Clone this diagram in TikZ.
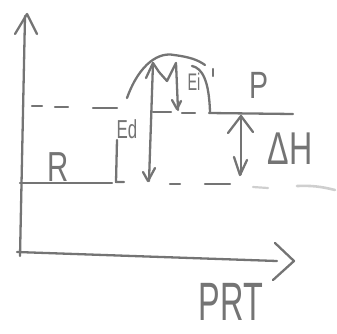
\documentclass[tikz,border=0pt]{standalone}
\usepackage{fontspec}
\setmainfont{Liberation Sans}
\usetikzlibrary{arrows.meta}
\definecolor{ink}{HTML}{747474}
\definecolor{faint}{HTML}{CFCFCF}
\begin{document}
\begin{tikzpicture}[x=1pt,y=-1pt,
  pen/.style={draw=ink,line width=2.3pt,line cap=round,line join=round},
  lbl/.style={text=ink,inner sep=0pt}]
\useasboundingbox (0,0) rectangle (337,333);
% axes
\draw[pen] (20,256) -- (25,16);
\draw[pen] (15,34) -- (27,14) -- (37,34);
\draw[pen] (17,252) -- (277,261);
\draw[pen] (275,243) -- (294,261) -- (273,280);
% reactant level
\draw[pen] (20,183) -- (112,183);
\draw[pen] (117,140) -- (116,182) -- (124,182);
% dashed extension of R level
\draw[pen] (170,184) -- (180,184);
\draw[pen] (205,184) -- (230,184);
\draw[draw=faint,line width=2.2pt,line cap=round] (253,187) -- (268,188);
\draw[draw=faint,line width=2.6pt,line cap=round] (297,186) to[bend left=8] (335,190);
% dashed upper level (left)
\draw[pen] (32,106) -- (42,106);
\draw[pen] (55,107) -- (68,107);
\draw[pen] (93,108) -- (117,108);
% product level
\draw[pen] (153,112) -- (171,112);
\draw[pen] (182,113) -- (195,113);
\draw[pen] (209,113) -- (293,114);
% hump
\draw[pen] (127,98) .. controls (140,62) and (160,52) .. (174,55)
  .. controls (190,57) and (198,60) .. (205,65);
\draw[pen] (192,66) .. controls (202,68) and (209,80) .. (210,112);
% Ed arrow (long)
\draw[pen] (153,63) -- (149,181);
\draw[pen] (146,78) -- (153,63) -- (159,72);
\draw[pen] (143,172) -- (148,181) -- (155,168);
% M-like strokes and Ei arrow
\draw[pen] (159,72) -- (167,81) -- (176,63) -- (178,110);
\draw[pen] (172,100) -- (177,109) -- (181,101);
% Delta H arrow
\draw[pen] (241,116) -- (241,174);
\draw[pen] (228,133) -- (241,116) -- (253,132);
\draw[pen] (234,157) -- (240,175) -- (247,160);
% tick near Ei
\draw[pen] (213,69) -- (213,76);
% labels
\node[lbl,font=\fontsize{42}{42}\selectfont,xscale=0.7] at (58,167) {R};
\node[lbl,font=\fontsize{26}{26}\selectfont,xscale=0.65] at (127,129) {Ed};
\node[lbl,font=\fontsize{24}{24}\selectfont,xscale=0.6] at (194,82) {Ei};
\node[lbl,font=\fontsize{38}{38}\selectfont,xscale=0.75] at (259,85) {P};
\node[lbl,font=\fontsize{46}{46}\selectfont,xscale=0.7] at (290,149) {ΔH};
\node[lbl,font=\fontsize{54}{54}\selectfont,xscale=0.6] at (231,302) {PRT};
\end{tikzpicture}
\end{document}
